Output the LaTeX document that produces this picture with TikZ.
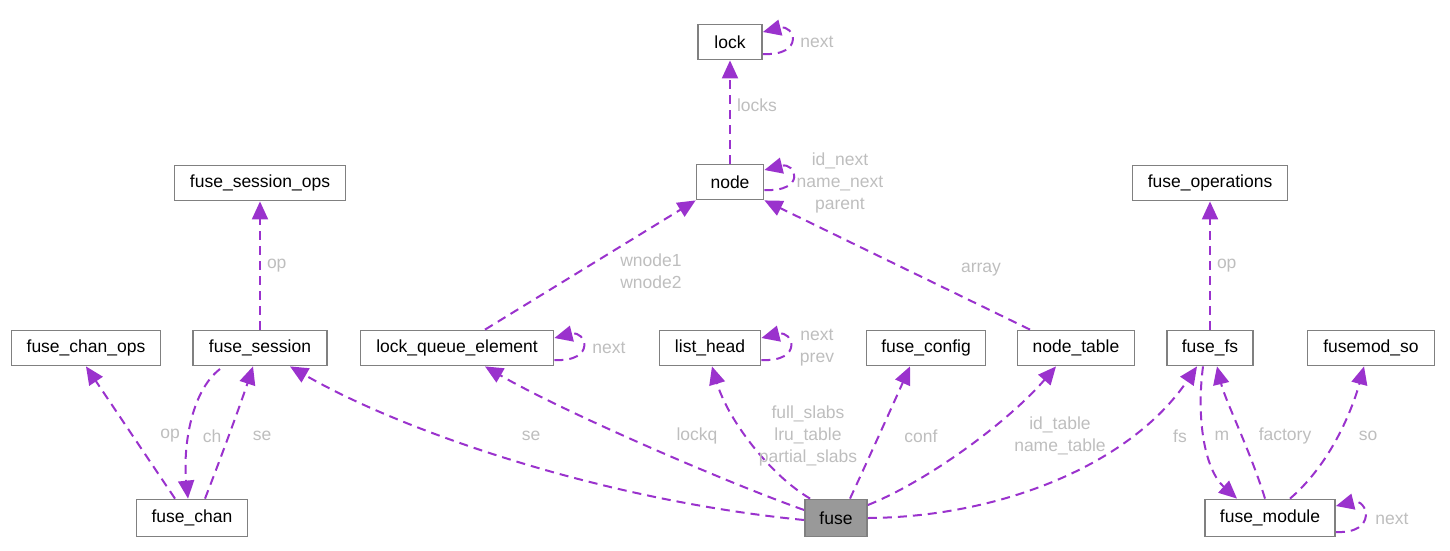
\documentclass[tikz,border=0pt]{standalone}
\usepackage{fontspec}
\setmainfont{Liberation Sans}
\usetikzlibrary{arrows.meta, positioning}
\definecolor{edgepurple}{HTML}{9A32CD}
\definecolor{lblgray}{HTML}{BEBEBE}
\definecolor{boxgray}{HTML}{808080}
\definecolor{mainfill}{HTML}{999999}

\begin{document}
\begin{tikzpicture}[
  x=1pt, y=-1pt,
  box/.style={draw=boxgray, line width=1.8pt, fill=white, minimum height=35pt, inner sep=2pt, font=\fontsize{17.5}{21}\selectfont},
  ref/.style={-{Triangle[length=18pt,width=16pt]}, draw=edgepurple, line width=2pt, dash pattern=on 9pt off 6pt},
  lbl/.style={text=lblgray, align=center, inner sep=0pt, font=\fontsize{17.5}{22}\selectfont},
  ]
  \useasboundingbox (0,0) rectangle (1450,550);

  % Top rows
  \node[box, minimum width=64pt] (lock) at (730,42) {lock};
  \node[box, minimum width=67pt] (nd) at (730,182) {node};
  \node[box, minimum width=171pt] (sessops) at (260,183) {fuse\_session\_ops};
  \node[box, minimum width=155pt] (fsops) at (1210,183) {fuse\_operations};

  % Middle row
  \node[box, minimum width=149pt] (chanops) at (86,348) {fuse\_chan\_ops};
  \node[box, minimum width=134pt] (session) at (260,348) {fuse\_session};
  \node[box, minimum width=193pt] (lqe) at (457,348) {lock\_queue\_element};
  \node[box, minimum width=101pt] (listhead) at (710,348) {list\_head};
  \node[box, minimum width=119pt] (config) at (926,348) {fuse\_config};
  \node[box, minimum width=117pt] (ntable) at (1076,348) {node\_table};
  \node[box, minimum width=86pt] (fs) at (1210,348) {fuse\_fs};
  \node[box, minimum width=127pt] (modso) at (1371,348) {fusemod\_so};

  % Bottom row
  \node[box, minimum width=111pt, minimum height=37pt] (chan) at (192,518) {fuse\_chan};
  \node[box, minimum width=62pt, minimum height=37pt, fill=mainfill] (fuse) at (836,518) {fuse};
  \node[box, minimum width=130pt, minimum height=37pt] (module) at (1270,518) {fuse\_module};

  % lock and node
  \draw[ref] (nd.north) -- (lock.south);
  \node[lbl] (llocks) at (757,105) {locks};
  \draw[ref] ([yshift=-12pt]lock.east) .. controls +(42,2) and +(32,-8) .. ([yshift=10pt]lock.east);
  \node[lbl] (locknext) at (817,42) {next};
  \draw[ref] ([yshift=-8pt]nd.east) .. controls +(42,2) and +(32,-8) .. ([yshift=12pt]nd.east);
  \node[lbl] (ndloop) at (840,183) {id\_next\\name\_next\\parent};
  \draw[ref] ([xshift=28pt]lqe.north) -- (nd.south west);
  \node[lbl] (lwnode) at (651,271) {wnode1\\wnode2};
  \draw[ref] ([xshift=-46pt]ntable.north) -- (nd.south east);
  \node[lbl] (larray) at (981,270) {array};

  % ops
  \draw[ref] (session.north) -- node[lbl, right=6pt] {op} (sessops.south);
  \draw[ref] (fs.north) -- node[lbl, right=6pt] {op} (fsops.south);

  % fuse_chan group
  \draw[ref] ([xshift=-17pt]chan.north) -- (chanops.south) ;
  \node[lbl] (lop) at (170,436) {op};
  \draw[ref] (220,369) .. controls (190,392) and (183,450) .. ([xshift=-4pt]chan.north);
  \node[lbl] (lch) at (212,436) {ch};
  \draw[ref] ([xshift=13pt]chan.north) .. controls (222,455) and (242,400) .. ([xshift=-7pt]session.south);
  \node[lbl] (lse) at (262,436) {se};

  % lock_queue_element and list_head loops
  \draw[ref] ([yshift=-12pt]lqe.east) .. controls +(42,2) and +(32,-8) .. ([yshift=10pt]lqe.east);
  \node[lbl] (lqenext) at (609,348) {next};
  \draw[ref] ([yshift=-12pt]listhead.east) .. controls +(42,2) and +(32,-8) .. ([yshift=10pt]listhead.east);
  \node[lbl] (lhloop) at (817,348) {next\\prev};

  % edges from fuse
  \draw[ref] ([yshift=-2pt]fuse.west) .. controls (600,500) and (400,430) .. ([xshift=30pt]session.south);
  \node[lbl] (lse2) at (531,436) {se};
  \draw[ref] ([yshift=8pt]fuse.west) .. controls (720,480) and (560,410) .. ([xshift=28pt]lqe.south);
  \node[lbl] (llockq) at (697,436) {lockq};
  \draw[ref] ([xshift=6pt]fuse.north west) .. controls (770,475) and (728,420) .. ([xshift=2pt]listhead.south);
  \node[lbl] (lslabs) at (808,436) {full\_slabs\\lru\_table\\partial\_slabs};
  \draw[ref] ([xshift=14pt]fuse.north) .. controls (868,460) and (895,400) .. ([xshift=-16pt]config.south);
  \node[lbl] (lconf) at (921,436) {conf};
  \draw[ref] ([yshift=13pt]fuse.east) .. controls (930,480) and (1010,420) .. ([xshift=-20pt]ntable.south);
  \node[lbl] (ltable) at (1060,436) {id\_table\\name\_table};
  \draw[ref] (fuse.east) .. controls (1000,517) and (1130,465) .. ([xshift=-13pt]fs.south);
  \node[lbl] (lfs) at (1180,436) {fs};

  % fuse_fs and fuse_module
  \draw[ref] ([xshift=-7pt]fs.south) .. controls (1196,420) and (1205,470) .. ([xshift=-33pt]module.north);
  \node[lbl] (lm) at (1222,436) {m};
  \draw[ref] ([xshift=-5pt]module.north) .. controls (1250,450) and (1225,400) .. ([xshift=7pt]fs.south);
  \node[lbl] (lfactory) at (1285,436) {factory};
  \draw[ref] ([xshift=20pt]module.north) .. controls (1335,460) and (1355,400) .. ([xshift=-7pt]modso.south);
  \node[lbl] (lso) at (1368,436) {so};
  \draw[ref] ([yshift=-14pt]module.east) .. controls +(42,2) and +(32,-8) .. ([yshift=12pt]module.east);
  \node[lbl] (lmodnext) at (1392,519) {next};

\end{tikzpicture}
\end{document}
